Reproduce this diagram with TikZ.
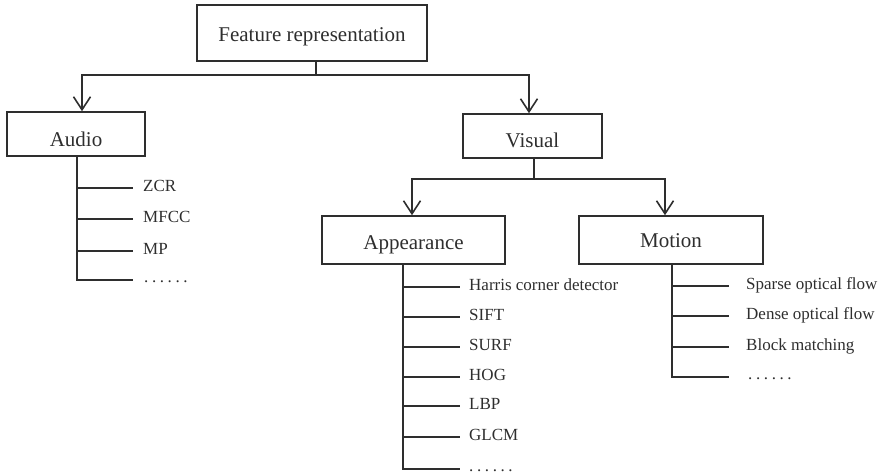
\documentclass[tikz,border=0pt]{standalone}
\usepackage{fontspec}
\setmainfont{Liberation Serif}
\usetikzlibrary{arrows.meta}
\definecolor{ink}{HTML}{2E2E2E}
% six widely spaced dots
\newcommand{\spaceddots}{.\kern3.6pt.\kern3.6pt.\kern3.6pt.\kern3.6pt.\kern3.6pt.}
\tikzset{
  box/.style={draw=ink, line width=1.6pt, inner sep=0pt, font=\fontsize{21}{25}\selectfont,
    text=ink},
  leaf/.style={anchor=west, inner sep=0pt, text height=9pt, text depth=3pt,
    font=\fontsize{17}{20}\selectfont, text=ink},
  dots/.style={leaf, text height=4pt, text depth=0pt},
  wire/.style={draw=ink, line width=1.6pt},
  arr/.style={wire, -{Straight Barb[length=13pt, width=17pt, line width=1.6pt]}},
}
\begin{document}
\begin{tikzpicture}[x=1pt, y=-1pt]
\useasboundingbox (0,0) rectangle (880,475);

% category boxes
\node[box, minimum width=230pt, minimum height=56pt, text height=23pt, text depth=7pt]
  (top) at (312,33) {Feature representation};
\node[box, minimum width=138pt, minimum height=44pt, text height=30pt, text depth=6pt]
  (audio) at (76,134) {Audio};
\node[box, minimum width=139pt, minimum height=44pt, text height=29.5pt, text depth=6.5pt]
  (visual) at (532.5,136) {Visual};
\node[box, minimum width=183pt, minimum height=48pt, text height=26pt, text depth=7pt]
  (app) at (413.5,240) {Appearance};
\node[box, minimum width=184pt, minimum height=48pt, text height=22pt, text depth=7pt]
  (motion) at (671,240) {Motion};

% first split
\coordinate (j0) at (316,75);
\draw[wire] (top.south -| j0) -- (j0);
\draw[arr] (j0) -| ([xshift=6pt]audio.north);
\draw[arr] (j0) -| ([xshift=-3.5pt]visual.north);

% second split
\coordinate (j1) at (534,179);
\draw[wire] (visual.south -| j1) -- (j1);
\draw[arr] (j1) -| ([xshift=-1.5pt]app.north);
\draw[arr] (j1) -| ([xshift=-6pt]motion.north);

% audio features
\coordinate (sA) at (77,0);
\node[leaf] (a1) at (143,188) {ZCR};
\node[leaf] (a2) at (143,219) {MFCC};
\node[leaf] (a3) at (143,251) {MP};
\node[dots] (a4) at (144,280) {\spaceddots};
\draw[wire] (audio.south -| sA) -- (sA |- a4.west) -- ([xshift=-11pt]a4.west);
\foreach \n in {a1,a2,a3}
  \draw[wire] (sA |- \n.west) -- ([xshift=-10pt]\n.west);

% appearance features
\coordinate (sP) at (403,0);
\node[leaf] (p1) at (469,287) {Harris corner detector};
\node[leaf] (p2) at (469,317) {SIFT};
\node[leaf] (p3) at (469,347) {SURF};
\node[leaf] (p4) at (469,377) {HOG};
\node[leaf] (p5) at (469,406) {LBP};
\node[leaf] (p6) at (469,437) {GLCM};
\node[dots] (p7) at (469,469) {\spaceddots};
\draw[wire] (app.south -| sP) -- (sP |- p7.west) -- ([xshift=-9pt]p7.west);
\foreach \n in {p1,p2,p3,p4,p5,p6}
  \draw[wire] (sP |- \n.west) -- ([xshift=-9pt]\n.west);

% motion features
\coordinate (sM) at (672,0);
\node[leaf] (m1) at (746,286) {Sparse optical flow};
\node[leaf] (m2) at (746,316) {Dense optical flow};
\node[leaf] (m3) at (746,347) {Block matching};
\node[dots] (m4) at (748,377) {\spaceddots};
\draw[wire] (motion.south -| sM) -- (sM |- m4.west) -- ([xshift=-19pt]m4.west);
\foreach \n in {m1,m2,m3}
  \draw[wire] (sM |- \n.west) -- ([xshift=-17pt]\n.west);
\end{tikzpicture}
\end{document}
